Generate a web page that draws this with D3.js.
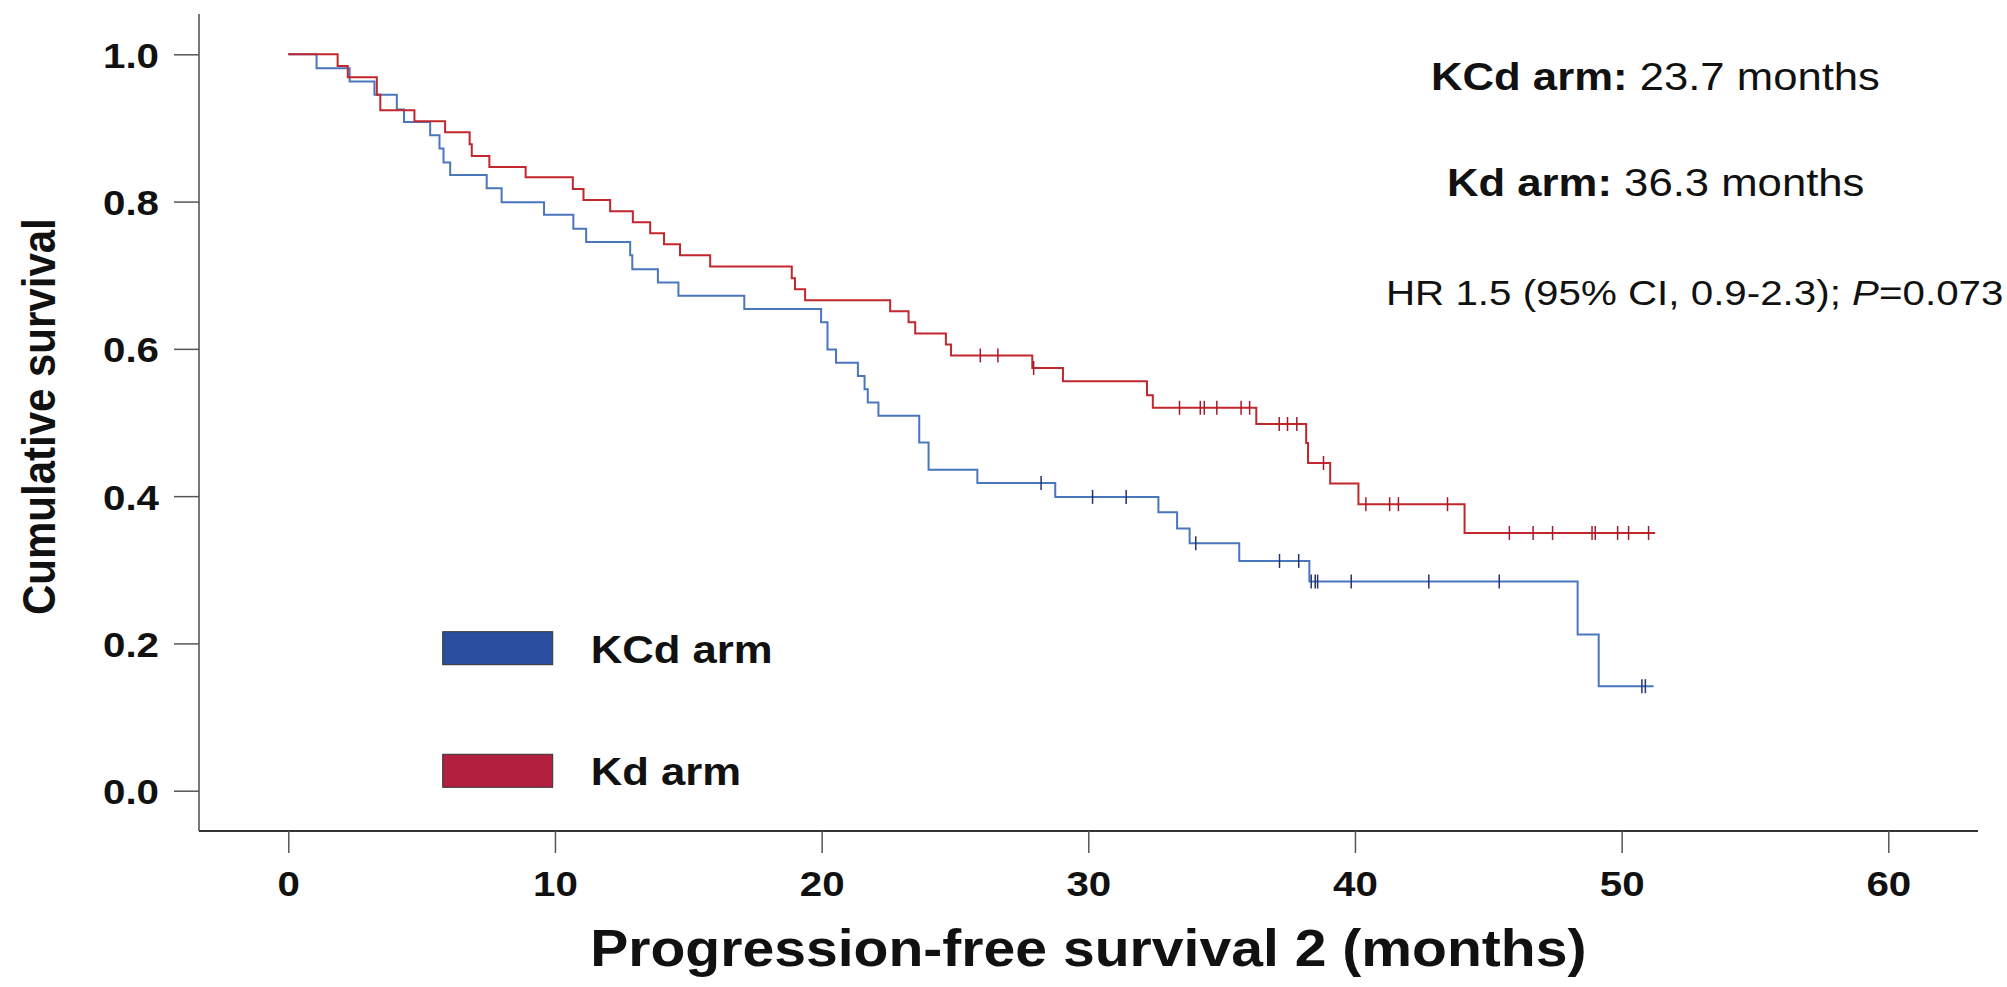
<!DOCTYPE html>
<html>
<head>
<meta charset="utf-8">
<script src="https://cdn.jsdelivr.net/npm/d3@7"></script>
<style>
  body { margin: 0; background: #fff; }
  text { font-family: "Liberation Sans", Arial, sans-serif; }
</style>
</head>
<body>
<div id="km"></div>
<script>
//Data: step times (months) and survival after each step
var kcdTimes = [1.06, 2.3, 3.23, 4.07, 4.34, 5.32, 5.67, 5.82, 6.07, 7.44, 8.0, 9.59, 10.69, 11.17, 12.82, 12.9, 13.86, 14.63, 17.1, 19.98, 20.22, 20.54, 21.36, 21.61, 21.73, 22.13, 23.66, 24.01, 25.84, 28.76, 32.63, 33.33, 33.8, 35.66, 38.29, 48.35, 49.14];
var kcdSurv = [0.981, 0.963, 0.945, 0.925, 0.908, 0.890, 0.872, 0.853, 0.836, 0.818, 0.799, 0.782, 0.763, 0.745, 0.727, 0.708, 0.690, 0.672, 0.654, 0.636, 0.599, 0.581, 0.563, 0.545, 0.527, 0.509, 0.473, 0.436, 0.418, 0.399, 0.378, 0.356, 0.336, 0.312, 0.284, 0.212, 0.142];
var kcdCensored = [28.23, 30.16, 31.42, 34.03, 37.17, 37.89, 38.36, 38.51, 38.6, 39.86, 42.77, 45.41, 50.76, 50.89];
var kcdEnd = 51.2;

var kdTimes = [1.85, 2.23, 3.32, 3.45, 4.73, 5.88, 6.8, 6.88, 7.54, 8.9, 10.67, 11.07, 12.07, 12.92, 13.57, 14.09, 14.69, 15.82, 18.88, 19.0, 19.38, 22.57, 23.26, 23.51, 24.66, 24.85, 27.9, 29.05, 32.2, 32.42, 36.3, 38.17, 38.24, 39.07, 40.13, 44.11];
var kdSurv = [0.984, 0.969, 0.945, 0.924, 0.909, 0.894, 0.878, 0.862, 0.847, 0.833, 0.817, 0.802, 0.787, 0.772, 0.757, 0.742, 0.727, 0.712, 0.696, 0.681, 0.666, 0.651, 0.636, 0.621, 0.606, 0.591, 0.574, 0.556, 0.537, 0.520, 0.498, 0.472, 0.445, 0.417, 0.389, 0.350];
var kdCensored = [25.95, 26.61, 27.95, 33.42, 34.2, 34.35, 34.82, 35.73, 36.05, 37.16, 37.47, 37.82, 38.82, 40.41, 41.3, 41.63, 43.47, 45.79, 46.68, 47.41, 48.89, 49.01, 49.85, 50.26, 51.01];
var kdEnd = 51.26;

var xTicks = [0, 10, 20, 30, 40, 50, 60];
var yTicks = [0.0, 0.2, 0.4, 0.6, 0.8, 1.0];

var legendNames = ["KCd arm", "Kd arm"];
var medianLabels = ["KCd arm:", "Kd arm:"];
var medianValues = ["23.7 months", "36.3 months"];
var hrText = "HR 1.5 (95% CI, 0.9-2.3); ";
var pText = "=0.073";

//Canvas
var width = 2007,
    height = 987;
var stretch = 1.12; //the original figure is a little wider than tall

var svg = d3.select("#km")
            .append("svg")
            .attr("width", width)
            .attr("height", height);

//Scales
var x = d3.scaleLinear().domain([0, 60]).range([288.3, 1888.3]);
var y = d3.scaleLinear().domain([0, 1]).range([790.7, 54.3]);

var axisLeftX = 199,
    axisBottomY = 831;

//Axis spines
svg.append("line")
   .attr("x1", axisLeftX).attr("x2", axisLeftX)
   .attr("y1", 14).attr("y2", axisBottomY)
   .attr("stroke", "#777").attr("stroke-width", 2);

svg.append("line")
   .attr("x1", axisLeftX).attr("x2", 1978)
   .attr("y1", axisBottomY).attr("y2", axisBottomY)
   .attr("stroke", "#333").attr("stroke-width", 2);

//Y axis ticks and labels
var yAxis = svg.append("g")
               .attr("transform", "translate(" + axisLeftX + ",0)")
               .call(d3.axisLeft(y).tickValues(yTicks).tickFormat(d3.format(".1f")).tickSize(25).tickPadding(15));
yAxis.select(".domain").remove();
yAxis.selectAll(".tick line").attr("stroke", "#555").attr("stroke-width", 1.5);
yAxis.selectAll(".tick text")
     .attr("x", -40 / stretch)
     .attr("dy", "0.36em")
     .attr("transform", "scale(" + stretch + ",1)")
     .style("font-family", "'Liberation Sans', Arial, sans-serif")
     .style("font-size", "36px")
     .style("font-weight", "bold")
     .attr("fill", "#111");

//X axis ticks and labels
var xAxis = svg.append("g")
               .attr("transform", "translate(0," + axisBottomY + ")")
               .call(d3.axisBottom(x).tickValues(xTicks).tickFormat(d3.format("d")).tickSize(22));
xAxis.select(".domain").remove();
xAxis.selectAll(".tick line").attr("stroke", "#555").attr("stroke-width", 1.5);
xAxis.selectAll(".tick text")
     .attr("y", 65)
     .attr("dy", 0)
     .attr("transform", "scale(" + stretch + ",1)")
     .attr("x", 0)
     .style("font-family", "'Liberation Sans', Arial, sans-serif")
     .style("font-size", "36px")
     .style("font-weight", "bold")
     .attr("fill", "#111");

//Axis titles
svg.append("text")
   .attr("transform", "translate(" + x(30) + ",966) scale(" + stretch + ",1)")
   .attr("text-anchor", "middle")
   .style("font-size", "51px")
   .style("font-weight", "bold")
   .attr("fill", "#111")
   .text("Progression-free survival 2 (months)");

svg.append("text")
   .attr("transform", "translate(55," + y(0.508) + ") scale(" + stretch + ",1) rotate(-90)")
   .attr("text-anchor", "middle")
   .style("font-size", "42px")
   .style("font-weight", "bold")
   .attr("fill", "#111")
   .text("Cumulative survival");

//Survival curves
var line = d3.line()
             .x(function(d) { return x(d[0]); })
             .y(function(d) { return y(d[1]); })
             .curve(d3.curveStepAfter);

function stepPoints(times, surv, end) {
    var pts = [[0, 1]];
    times.forEach(function(t, i) { pts.push([t, surv[i]]); });
    pts.push([end, surv[surv.length - 1]]);
    return pts;
}

function survAt(times, surv, t) {
    var s = 1;
    times.forEach(function(tt, i) { if (tt <= t) s = surv[i]; });
    return s;
}

var arms = [
    {times: kcdTimes, surv: kcdSurv, cens: kcdCensored, end: kcdEnd, color: "#4a76bd", mark: "#22336e"},
    {times: kdTimes, surv: kdSurv, cens: kdCensored, end: kdEnd, color: "#c1272d", mark: "#a01c2c"}
];

arms.forEach(function(a) {
    svg.append("path")
       .datum(stepPoints(a.times, a.surv, a.end))
       .attr("d", line)
       .attr("fill", "none")
       .attr("stroke", a.color)
       .attr("stroke-width", 2);

    svg.selectAll(null)
       .data(a.cens)
       .enter()
       .append("line")
       .attr("x1", function(d) { return x(d); })
       .attr("x2", function(d) { return x(d); })
       .attr("y1", function(d) { return y(survAt(a.times, a.surv, d)) - 7; })
       .attr("y2", function(d) { return y(survAt(a.times, a.surv, d)) + 7; })
       .attr("stroke", a.mark)
       .attr("stroke-width", 1.5);
});

//Legend
var legendColors = ["#2b4f9e", "#b21f3f"];
var legendY = [631.7, 754.3];
legendNames.forEach(function(name, i) {
    svg.append("rect")
       .attr("x", 442.7).attr("y", legendY[i])
       .attr("width", 110).attr("height", 33)
       .attr("fill", legendColors[i])
       .attr("stroke", "#333").attr("stroke-width", 1);
    svg.append("text")
       .attr("transform", "translate(590.7," + (legendY[i] + 31) + ") scale(" + stretch + ",1)")
       .style("font-size", "39px")
       .style("font-weight", "bold")
       .attr("fill", "#111")
       .text(name);
});

//Median annotations
var medianX = [1431, 1447];
var medianBase = [89.5, 196];
medianLabels.forEach(function(lab, i) {
    var t = svg.append("text")
               .attr("transform", "translate(" + medianX[i] + "," + medianBase[i] + ") scale(" + stretch + ",1)")
               .style("font-size", "39px")
               .attr("fill", "#111");
    t.append("tspan").style("font-weight", "bold").text(lab + " ");
    t.append("tspan").text(medianValues[i]);
});

var hr = svg.append("text")
            .attr("transform", "translate(1386,305) scale(" + stretch + ",1)")
            .style("font-size", "36px")
            .attr("fill", "#111");
hr.append("tspan").text(hrText);
hr.append("tspan").style("font-style", "italic").text("P");
hr.append("tspan").text(pText);
</script>
</body>
</html>
